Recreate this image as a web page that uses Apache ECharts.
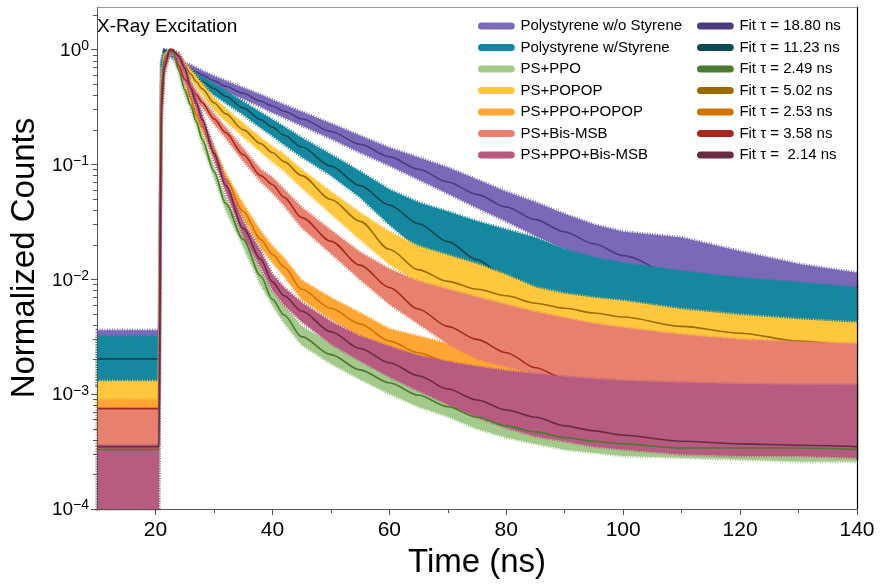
<!DOCTYPE html>
<html><head><meta charset="utf-8">
<script src="https://cdn.jsdelivr.net/npm/echarts@6/dist/echarts.min.js"></script>
<style>html,body{margin:0;padding:0;background:#fff}#c{width:884px;height:584px}</style>
</head><body><div id="c"></div>
<script>
// ---------- data ----------
const time = [10, 20.6, 21, 21.5, 22.5, 23, 24, 25, 26, 27, 28, 30, 32, 35, 38, 40, 42, 45, 50, 55, 60, 65, 70, 75, 80, 85, 90, 95, 100, 110, 120, 130, 140];

const dataNames = ['Polystyrene w/o Styrene', 'Polystyrene w/Styrene', 'PS+PPO', 'PS+POPOP', 'PS+PPO+POPOP', 'PS+Bis-MSB', 'PS+PPO+Bis-MSB'];
const fitNames = ['Fit \u03c4 = 18.80 ns', 'Fit \u03c4 = 11.23 ns', 'Fit \u03c4 = 2.49 ns', 'Fit \u03c4 = 5.02 ns', 'Fit \u03c4 = 2.53 ns', 'Fit \u03c4 = 3.58 ns', 'Fit \u03c4 =  2.14 ns'];

const xMajor = [20, 40, 60, 80, 100, 120, 140];
const xMinor = [30, 50, 70, 90, 110, 130];
const yMajor = [1e-4, 1e-3, 1e-2, 1e-1, 1];

// Polystyrene w/o Styrene
const wosFit = [0.00203, 0.00203, 0.6, 0.98, 0.955, 0.90, 0.81, 0.72, 0.68, 0.64, 0.60, 0.535, 0.48, 0.417, 0.356, 0.323, 0.291, 0.250, 0.194, 0.150, 0.117, 0.0908, 0.0705, 0.0549, 0.0426, 0.0331, 0.0259, 0.0204, 0.0161, 0.0101, 0.0069, 0.0052, 0.0041];
const wosHi = [0.0036, 0.0036, 0.75, 1.0, 0.99, 0.95, 0.87, 0.77, 0.737, 0.694, 0.654, 0.59, 0.535, 0.465, 0.405, 0.366, 0.331, 0.288, 0.227, 0.178, 0.140, 0.115, 0.094, 0.074, 0.058, 0.047, 0.037, 0.030, 0.026, 0.0232, 0.0176, 0.0136, 0.0114];
const wosLo = [0.0012, 0.0012, 0.5, 0.95, 0.91, 0.86, 0.78, 0.68, 0.628, 0.59, 0.557, 0.484, 0.43, 0.373, 0.318, 0.283, 0.256, 0.218, 0.168, 0.127, 0.098, 0.074, 0.056, 0.042, 0.032, 0.024, 0.0183, 0.0144, 0.0118, 0.0075, 0.0064, 0.0055, 0.0047];

// Polystyrene w/Styrene
const wsFit = [0.00203, 0.00203, 0.65, 0.99, 0.93, 0.88, 0.78, 0.667, 0.615, 0.568, 0.53, 0.459, 0.393, 0.311, 0.246, 0.211, 0.180, 0.142, 0.0967, 0.0655, 0.0443, 0.0305, 0.0213, 0.0148, 0.0103, 0.0072, 0.0053, 0.00417, 0.00349, 0.00275, 0.00239, 0.00221, 0.00213];
const wsHi = [0.0032, 0.0032, 0.8, 1.0, 0.97, 0.93, 0.84, 0.722, 0.667, 0.615, 0.58, 0.504, 0.438, 0.352, 0.283, 0.246, 0.213, 0.171, 0.122, 0.0868, 0.0606, 0.0467, 0.0389, 0.0320, 0.0272, 0.0232, 0.0183, 0.0155, 0.0139, 0.0118, 0.0103, 0.0094, 0.0085];
const wsLo = [0.0012, 0.0012, 0.5, 0.94, 0.88, 0.83, 0.73, 0.615, 0.568, 0.525, 0.484, 0.405, 0.345, 0.272, 0.209, 0.178, 0.149, 0.117, 0.0806, 0.0518, 0.0301, 0.0183, 0.0128, 0.0100, 0.0082, 0.0067, 0.0059, 0.0052, 0.0047, 0.0041, 0.0039, 0.0037, 0.0036];

// PS+PPO
const ppoFit = [0.00033, 0.00033, 0.45, 0.8, 1.0, 0.955, 0.667, 0.447, 0.331, 0.236, 0.165, 0.0868, 0.0458, 0.0223, 0.0107, 0.0067, 0.0049, 0.00317, 0.00221, 0.00163, 0.00126, 0.00098, 0.00078, 0.00063, 0.00053, 0.00047, 0.00042, 0.00039, 0.00037, 0.00034, 0.00034, 0.00034, 0.00033];
const ppoHi = [0.0004, 0.0004, 0.55, 0.9, 1.0, 0.99, 0.722, 0.485, 0.358, 0.256, 0.182, 0.096, 0.0516, 0.0252, 0.0123, 0.0079, 0.0059, 0.0039, 0.00275, 0.00207, 0.00163, 0.00131, 0.00105, 0.00087, 0.00075, 0.00065, 0.0006, 0.00055, 0.00051, 0.00049, 0.00047, 0.00046, 0.00045];
const ppoLo = [0.0001, 0.0001, 0.35, 0.7, 0.95, 0.9, 0.615, 0.41, 0.306, 0.218, 0.149, 0.0787, 0.0406, 0.0194, 0.009, 0.006, 0.0042, 0.0027, 0.00185, 0.00135, 0.00101, 0.00078, 0.00064, 0.0005, 0.00042, 0.00037, 0.00033, 0.00031, 0.00029, 0.00028, 0.00027, 0.00026, 0.00026];

// PS+POPOP
const popopFit = [0.00078, 0.00078, 0.4, 0.8, 1.0, 0.98, 0.86, 0.72, 0.615, 0.525, 0.456, 0.345, 0.277, 0.201, 0.152, 0.127, 0.106, 0.080, 0.0496, 0.032, 0.0183, 0.0121, 0.0096, 0.0082, 0.0072, 0.0062, 0.0056, 0.0051, 0.0047, 0.0039, 0.0034, 0.0029, 0.0025];
const popopHi = [0.0013, 0.0013, 0.5, 0.9, 1.0, 0.99, 0.936, 0.782, 0.667, 0.58, 0.504, 0.381, 0.305, 0.227, 0.171, 0.143, 0.122, 0.0904, 0.058, 0.038, 0.026, 0.0194, 0.0162, 0.0136, 0.0109, 0.0085, 0.0075, 0.0069, 0.0065, 0.0055, 0.0049, 0.0045, 0.0042];
const popopLo = [0.0008, 0.0008, 0.3, 0.7, 0.95, 0.93, 0.797, 0.667, 0.568, 0.475, 0.413, 0.300, 0.24, 0.175, 0.13, 0.106, 0.088, 0.063, 0.0375, 0.0223, 0.0136, 0.0094, 0.0079, 0.0065, 0.0055, 0.0048, 0.0041, 0.0035, 0.0032, 0.0029, 0.00255, 0.0023, 0.0021];

// PS+PPO+POPOP
const ppoPopopFit = [0.00075, 0.00075, 0.35, 0.75, 1.0, 0.99, 0.81, 0.57, 0.38, 0.272, 0.213, 0.13, 0.074, 0.039, 0.0223, 0.0165, 0.0128, 0.0082, 0.0056, 0.0041, 0.0029, 0.0023, 0.0019, 0.00163, 0.00145, 0.00131, 0.00121, 0.00111, 0.00105, 0.00094, 0.00089, 0.00084, 0.00081];
const ppoPopopHi = [0.0009, 0.0009, 0.45, 0.85, 1.0, 0.99, 0.88, 0.615, 0.41, 0.295, 0.232, 0.143, 0.0832, 0.045, 0.0262, 0.0194, 0.0153, 0.0098, 0.0069, 0.0051, 0.0037, 0.0032, 0.00275, 0.00248, 0.00225, 0.0021, 0.00196, 0.00184, 0.00174, 0.0016, 0.00151, 0.00142, 0.00136];
const ppoPopopLo = [0.0005, 0.0005, 0.25, 0.65, 0.95, 0.92, 0.75, 0.525, 0.35, 0.25, 0.195, 0.117, 0.0657, 0.034, 0.019, 0.0141, 0.0107, 0.0067, 0.0045, 0.0032, 0.0022, 0.00174, 0.00142, 0.00123, 0.00107, 0.00094, 0.00086, 0.00079, 0.00072, 0.00061, 0.00052, 0.00048, 0.00044];

// PS+Bis-MSB
const bisFit = [0.00075, 0.00075, 0.4, 0.8, 1.0, 0.99, 0.72, 0.55, 0.475, 0.405, 0.345, 0.25, 0.19, 0.122, 0.080, 0.067, 0.0517, 0.0346, 0.0215, 0.0133, 0.0085, 0.0055, 0.0039, 0.0030, 0.0023, 0.0017, 0.00136, 0.00111, 0.00100, 0.00089, 0.00082, 0.00079, 0.00078];
const bisHi = [0.00075, 0.00075, 0.5, 0.9, 1.0, 0.99, 0.782, 0.603, 0.514, 0.438, 0.373, 0.277, 0.21, 0.137, 0.0904, 0.077, 0.0606, 0.0423, 0.0268, 0.0172, 0.0123, 0.0096, 0.0082, 0.0070, 0.0060, 0.0052, 0.0046, 0.0041, 0.0038, 0.0033, 0.0030, 0.00286, 0.00275];
const bisLo = [0.00036, 0.00036, 0.3, 0.7, 0.95, 0.92, 0.667, 0.504, 0.438, 0.373, 0.318, 0.227, 0.171, 0.108, 0.0713, 0.0571, 0.0441, 0.0283, 0.0169, 0.0100, 0.0061, 0.0041, 0.00275, 0.00203, 0.00174, 0.00151, 0.00136, 0.00123, 0.00116, 0.00105, 0.00096, 0.00094, 0.00091];

// PS+PPO+Bis-MSB
const ppoBisFit = [0.00035, 0.00035, 0.3, 0.7, 1.0, 0.98, 0.88, 0.694, 0.465, 0.341, 0.246, 0.125, 0.0657, 0.0278, 0.015, 0.0095, 0.0072, 0.0053, 0.0035, 0.0025, 0.00188, 0.00145, 0.00111, 0.00089, 0.00073, 0.00063, 0.00053, 0.00048, 0.00044, 0.00039, 0.00037, 0.00036, 0.00035];
const ppoBisHi = [0.00036, 0.00036, 0.4, 0.8, 1.0, 0.99, 0.93, 0.75, 0.514, 0.381, 0.272, 0.137, 0.074, 0.032, 0.0176, 0.0111, 0.0085, 0.0063, 0.0043, 0.0032, 0.0026, 0.00217, 0.00192, 0.00174, 0.0016, 0.00151, 0.00142, 0.00136, 0.00131, 0.00126, 0.00123, 0.00121, 0.00121];
const ppoBisLo = [0.0001, 0.0001, 0.2, 0.6, 0.95, 0.9, 0.8, 0.641, 0.421, 0.306, 0.222, 0.113, 0.0582, 0.0243, 0.0128, 0.0081, 0.006, 0.0043, 0.00275, 0.00196, 0.00142, 0.00107, 0.00082, 0.00063, 0.00051, 0.00043, 0.00039, 0.00035, 0.00033, 0.0003, 0.00029, 0.00029, 0.00028];

// ---------- styling ----------
const FONT = '"Liberation Sans", Arial, Helvetica, sans-serif';
const dataColors = ['#7b68b9', '#15879f', '#a3c98b', '#ffc73d', '#ffa634', '#e8806f', '#b75b80'];
const fitColors = ['#4a3b82', '#0c4b53', '#4b7a31', '#9a6c00', '#d27200', '#a6281d', '#6a2a45'];
const yMin = 1e-4, yMax = 2.35;
const yMinor = [];
for (let k = -4; k <= 0; k++) for (let m = 2; m <= 9; m++) { const v = m * Math.pow(10, k); if (v < yMax) yMinor.push(v); }

const his = [wosHi, wsHi, ppoHi, popopHi, ppoPopopHi, bisHi, ppoBisHi];
const los = [wosLo, wsLo, ppoLo, popopLo, ppoPopopLo, bisLo, ppoBisLo];
const fits = [wosFit, wsFit, ppoFit, popopFit, ppoPopopFit, bisFit, ppoBisFit];

function bandSeries(i, z) {
  const hi = his[i], lo = los[i], color = dataColors[i];
  return {
    name: dataNames[i], type: 'custom', silent: true, z: z,
    xAxisIndex: 0, yAxisIndex: 0,
    itemStyle: { color: color },
    data: [[time[0], hi[0]]], encode: { x: 0, y: 1 },
    renderItem: function (params, api) {
      const pts = [];
      for (let k = 0; k < time.length; k++) pts.push(api.coord([time[k], hi[k]]));
      for (let k = time.length - 1; k >= 0; k--) pts.push(api.coord([time[k], lo[k]]));
      return { type: 'polygon', shape: { points: pts },
        style: { fill: color, stroke: color, lineWidth: 3, lineDash: [1, 1.5] } };
    }
  };
}
function fitSeries(i, z) {
  return {
    name: fitNames[i], type: 'line', silent: true, showSymbol: false, z: z,
    xAxisIndex: 0, yAxisIndex: 0,
    smooth: 0.3, smoothMonotone: 'x',
    lineStyle: { color: fitColors[i], width: 1.6 },
    itemStyle: { color: fitColors[i] },
    data: time.map((t, k) => [t, fits[i][k]])
  };
}
const series = [
  bandSeries(0, 2), fitSeries(0, 3),
  bandSeries(1, 4), fitSeries(1, 5),
  bandSeries(2, 6),
  bandSeries(3, 7), fitSeries(3, 8),
  bandSeries(4, 9), fitSeries(4, 10),
  bandSeries(5, 11), fitSeries(5, 12),
  bandSeries(6, 13), fitSeries(2, 14), fitSeries(6, 15)
];

const capsule = 'path://M4,0H38A4,4,0,0,1,38,8H4A4,4,0,0,1,4,0Z';
function legend(names, colors, left) {
  return {
    show: true, orient: 'vertical', left: left, top: 18, padding: 0, z: 50,
    itemWidth: 38, itemHeight: 7, itemGap: 5.5, selectedMode: false,
    textStyle: { fontSize: 15, color: '#000', fontFamily: FONT, lineHeight: 16 },
    data: names.map((n, i) => ({ name: n, icon: capsule, itemStyle: { color: colors[i] } }))
  };
}

const chart = echarts.init(document.getElementById('c'), null, { renderer: 'canvas', width: 884, height: 584 });
chart.setOption({
  backgroundColor: '#fff',
  animation: false,
  title: { text: 'X-Ray Excitation', left: 97, top: 17, padding: 0, z: 50,
    textStyle: { fontSize: 19, fontWeight: 'normal', color: '#000', fontFamily: FONT } },
  legend: [legend(dataNames, dataColors, 478), legend(fitNames, fitColors, 697)],
  grid: { left: 92, right: 27, top: 7, bottom: 73, containLabel: false },
  xAxis: [
    { type: 'value', min: 10, max: 140, interval: 10, position: 'bottom', z: 40,
      axisLine: { show: true, onZero: false, lineStyle: { color: '#555', width: 1 } },
      axisTick: { show: true, customValues: xMajor, length: 6, lineStyle: { color: '#555' } },
      axisLabel: { customValues: xMajor, fontSize: 21, color: '#000', margin: 11, fontFamily: FONT },
      splitLine: { show: false },
      name: 'Time (ns)', nameLocation: 'middle', nameGap: 22,
      nameTextStyle: { fontSize: 33, color: '#000', fontFamily: FONT, verticalAlign: 'top' } },
    { type: 'value', min: 10, max: 140, interval: 10, position: 'bottom', z: 40,
      axisLine: { show: false },
      axisTick: { show: true, customValues: xMinor, length: 4, lineStyle: { color: '#555' } },
      axisLabel: { show: false }, splitLine: { show: false } },
    { type: 'value', min: 10, max: 140, interval: 10, position: 'top', z: 40,
      axisLine: { show: true, onZero: false, lineStyle: { color: '#999', width: 1 } },
      axisTick: { show: false }, axisLabel: { show: false }, splitLine: { show: false } }
  ],
  yAxis: [
    { type: 'log', logBase: 10, min: yMin, max: yMax, position: 'left', z: 40,
      axisLine: { show: true, onZero: false, lineStyle: { color: '#555', width: 1 } },
      axisTick: { show: true, customValues: yMajor, length: 6, lineStyle: { color: '#555' } },
      axisLabel: { customValues: yMajor, margin: 8,
        formatter: function (v) {
          const e = Math.round(Math.log10(v));
          return '{b|10}{s|' + (e < 0 ? '\u2212' : '') + Math.abs(e) + '}';
        },
        rich: {
          b: { fontSize: 19, color: '#000', fontFamily: FONT, lineHeight: 21, verticalAlign: 'bottom' },
          s: { fontSize: 14, color: '#000', fontFamily: FONT, lineHeight: 21, verticalAlign: 'top' }
        } },
      splitLine: { show: false },
      name: 'Normalized Counts', nameLocation: 'middle', nameGap: 54, nameRotate: 90,
      nameTextStyle: { fontSize: 33, color: '#000', fontFamily: FONT } },
    { type: 'log', logBase: 10, min: yMin, max: yMax, position: 'left', z: 40,
      axisLine: { show: false },
      axisTick: { show: true, customValues: yMinor, length: 4, lineStyle: { color: '#555' } },
      axisLabel: { show: false }, splitLine: { show: false } },
    { type: 'log', logBase: 10, min: yMin, max: yMax, position: 'right', z: 40,
      axisLine: { show: true, onZero: false, lineStyle: { color: '#000', width: 1.2 } },
      axisTick: { show: false }, axisLabel: { show: false }, splitLine: { show: false } }
  ],
  series: series
});
</script>
</body></html>
